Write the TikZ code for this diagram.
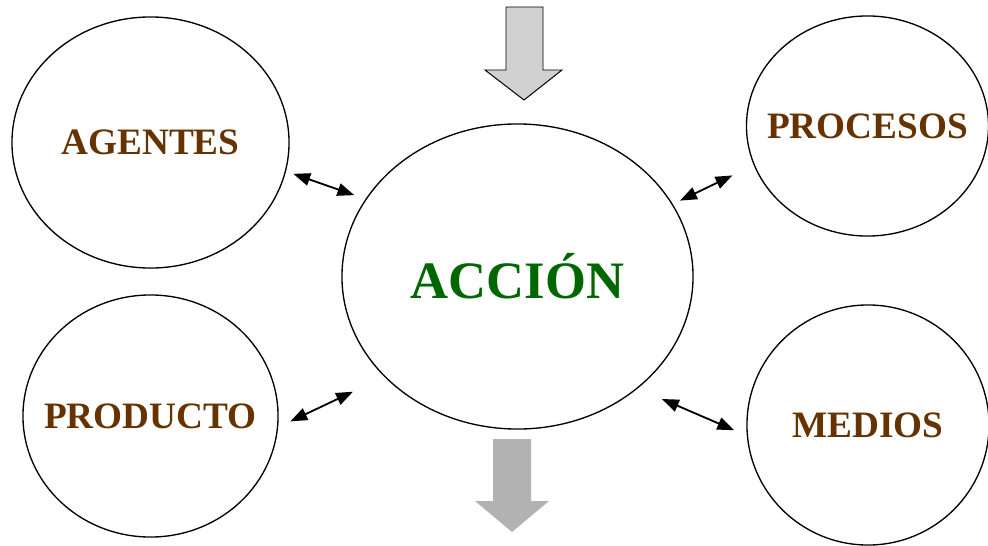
\documentclass[tikz,border=0pt]{standalone}
\usepackage{fontspec}
\setmainfont{Liberation Serif}
\usepackage{tikz}
\usetikzlibrary{arrows.meta}
\usetikzlibrary{shapes}
\definecolor{marron}{HTML}{663300}
\definecolor{verde}{HTML}{006600}

\begin{document}
\begin{tikzpicture}[x=0.025cm,y=-0.025cm,
    circ/.style={ellipse,draw,line width=0.95pt,inner sep=0pt},
    lbl/.style={text=marron,font=\fontsize{26.5}{30}\selectfont\bfseries},
    dbl/.style={{Triangle[length=12pt,width=9pt]}-{Triangle[length=12pt,width=9pt]},line width=1.3pt}]
\useasboundingbox (0,0) rectangle (988,546);

% block arrows in and out
\draw[fill=black!18,line width=0.7pt] (506,7) -- (543,7) -- (543,70) -- (562,70) -- (524,100)
    -- (485,70) -- (506,70) -- cycle;
\fill[black!30] (493,439) -- (531,439) -- (531,501) -- (549,501) -- (512,532)
    -- (475,501) -- (493,501) -- cycle;

\begin{scope}
    \node[circ,minimum width=8.775cm,minimum height=7.625cm,text=verde,
        font=\fontsize{37.4}{42}\selectfont\bfseries] (accion) at (517.5,276.5) {\makebox[0pt]{ACCIÓN}};
    \node[circ,lbl,minimum width=6.925cm,minimum height=6.275cm] (agentes) at (150.5,142.5) {\makebox[0pt]{\raisebox{-1.2pt}{AGENTES}}};
    \node[circ,lbl,minimum width=6.375cm,minimum height=6.05cm] (producto) at (150.5,416) {\makebox[0pt]{PRODUCTO}};
    \node[circ,lbl,minimum width=6.05cm,minimum height=5.5cm] (procesos) at (867.5,126) {\makebox[0pt]{\raisebox{-1.5pt}{PROCESOS}}};
    \node[circ,lbl,minimum width=6.05cm,minimum height=6cm] (medios) at (868,425) {\makebox[0pt]{MEDIOS}};
\end{scope}

\path [dbl,shorten <=5.5pt,shorten >=8.4pt] (agentes.-12) edge (accion.153);
\path [dbl,shorten <=5.7pt,shorten >=16.8pt] (accion.25) edge (procesos.199);
\path [dbl,shorten <=9.6pt,shorten >=24.7pt] (producto.-5) edge (accion.217);
\path [dbl,shorten <=18.8pt,shorten >=9.7pt] (accion.-43) edge (medios.185);
\end{tikzpicture}
\end{document}
